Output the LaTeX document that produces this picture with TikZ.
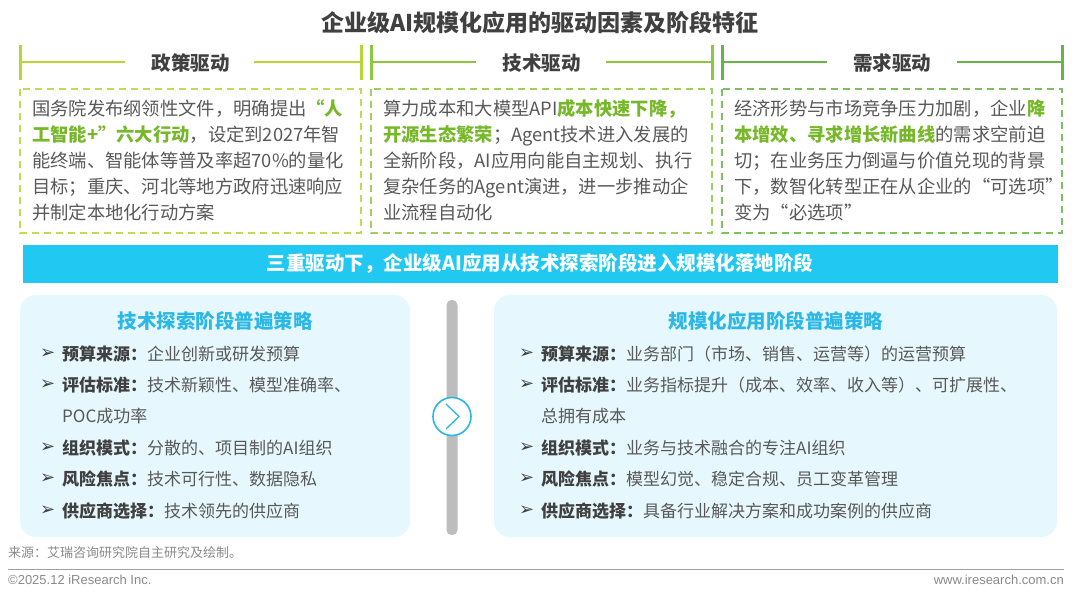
\documentclass[tikz,border=0pt]{standalone}
\usepackage{fontspec}
\setmainfont{Noto Sans CJK SC}
\newfontfamily\dejavu{DejaVu Sans}
\newfontfamily\arialfont{Liberation Sans}
\definecolor{bodygray}{HTML}{595959}
\definecolor{darkgray}{HTML}{404040}
\definecolor{hlgreen}{HTML}{76B82A}
\definecolor{secA}{HTML}{B4D736}
\definecolor{secB}{HTML}{8CC83F}
\definecolor{secC}{HTML}{66B546}
\definecolor{bannercyan}{HTML}{21C9F2}
\definecolor{titlecyan}{HTML}{2BB8E6}
\definecolor{boxfill}{HTML}{E6F7FD}
\definecolor{bargray}{HTML}{BDBDBD}
\definecolor{footgray}{HTML}{8A8A8A}
\newcommand{\hlg}[1]{\textcolor{hlgreen}{\bfseries #1}}
\newcommand{\itemlab}[1]{\textcolor{darkgray}{\bfseries #1}}
\begin{document}
\begin{tikzpicture}[x=1pt,y=-1pt,
  maintitle/.style={font=\fontsize{23}{26}\selectfont\bfseries, text=darkgray, inner sep=0},
  sechead/.style={font=\fontsize{19.5}{22}\selectfont\bfseries, text=darkgray, inner sep=0},
  secline/.style={line width=2.5pt},
  sectick/.style={line width=3pt},
  dashbox/.style={line width=2pt, dash pattern=on 7pt off 5pt},
  body/.style={font=\fontsize{18.3}{26}\selectfont, text=bodygray, align=left, inner sep=0, anchor=north west},
  banner/.style={fill=bannercyan, draw=none},
  bannertext/.style={font=\fontsize{19.5}{22}\selectfont\bfseries, text=white, inner sep=0},
  stagebox/.style={fill=boxfill, draw=none, rounded corners=16pt},
  stagetitle/.style={font=\fontsize{19.5}{22}\selectfont\bfseries, text=titlecyan, inner sep=0},
  item/.style={font=\fontsize{17}{20}\selectfont, text=bodygray, anchor=west, inner sep=0},
  bul/.style={font=\dejavu\fontsize{18}{20}\selectfont, text=darkgray, anchor=west, inner sep=0},
  foot/.style={font=\fontsize{13}{15}\selectfont, text=footgray, inner sep=0},
  footlatin/.style={font=\arialfont\fontsize{13}{15}\selectfont, text=footgray, inner sep=0}
]
\useasboundingbox[fill=white] (0,0) rectangle (1080,596);

% title
\node[maintitle] (title) at (540,23) {企业级AI规模化应用的驱动因素及阶段特征};

% section headers
\node[sechead] (hA) at (190.5,63) {政策驱动};
\draw[secA,secline] (20,62) -- (125,62) (254,62) -- (361,62);
\draw[secA,sectick] (20,45) -- (20,80) (361,45) -- (361,80);
\node[sechead] (hB) at (541.5,63) {技术驱动};
\draw[secB,secline] (371,62) -- (476,62) (606,62) -- (712,62);
\draw[secB,sectick] (371,45) -- (371,80) (712,45) -- (712,80);
\node[sechead] (hC) at (892,63) {需求驱动};
\draw[secC,secline] (722,62) -- (827,62) (957,62) -- (1062,62);
\draw[secC,sectick] (722,45) -- (722,80) (1062,45) -- (1062,80);

% dashed boxes
\draw[secA!85!white,dashbox] (20,89) rectangle (361,233);
\draw[secB!85!white,dashbox] (371,89) rectangle (712,233);
\draw[secC!85!white,dashbox] (722,89) rectangle (1062,233);

\node[body] (tA) at (32,99.5) {国务院发布纲领性文件，明确提出\hlg{“人}\\
\hlg{工智能+”六大行动}，设定到2027年智\\
能终端、智能体等普及率超70\%的量化\\
目标；重庆、河北等地方政府迅速响应\\
并制定本地化行动方案};
\node[body] (tB) at (383,99.5) {算力成本和大模型API\hlg{成本快速下降，}\\
\hlg{开源生态繁荣}；Agent技术进入发展的\\
全新阶段，AI应用向能自主规划、执行\\
复杂任务的Agent演进，进一步推动企\\
业流程自动化};
\node[body] (tC) at (734,99.5) {经济形势与市场竞争压力加剧，企业\hlg{降}\\
\hlg{本增效、寻求增长新曲线}的需求空前迫\\
切；在业务压力倒逼与价值兑现的背景\\
下，数智化转型正在从企业的“可选项”\\
变为“必选项”};

% banner
\fill[banner] (23,245) rectangle (1058,283);
\node[bannertext] (bannerT) at (540,264) {三重驱动下，企业级AI应用从技术探索阶段进入规模化落地阶段};

% stage boxes
\fill[stagebox] (20,295) rectangle (410,537);
\fill[stagebox] (494,295) rectangle (1057,537);
\fill[bargray, rounded corners=5pt] (446.5,300) rectangle (457.5,535);
\node[circle, draw=titlecyan, fill=white, line width=1.6pt, minimum size=38pt, inner sep=0] (circ) at (452,416.5) {};
\draw[titlecyan, line width=1.3pt] ([shift={(-6,-12.5)}]circ.center) -- ([shift={(7,0)}]circ.center) -- ([shift={(-6,12.5)}]circ.center);

\node[stagetitle] (sL) at (215,321) {技术探索阶段普遍策略};
\node[stagetitle] (sR) at (776,321) {规模化应用阶段普遍策略};

% left items
\foreach \yy in {354,385,448,479,511} { \node[bul] at (40,\yy) {➢}; }
\node[item] (l1) at (62,354) {\itemlab{预算来源：}企业创新或研发预算};
\node[item] (l2) at (62,385) {\itemlab{评估标准：}技术新颖性、模型准确率、};
\node[item] (l2b) at (62,416) {POC成功率};
\node[item] (l3) at (62,448) {\itemlab{组织模式：}分散的、项目制的AI组织};
\node[item] (l4) at (62,479) {\itemlab{风险焦点：}技术可行性、数据隐私};
\node[item] (l5) at (62,511) {\itemlab{供应商选择：}技术领先的供应商};

% right items
\foreach \yy in {354,385,448,479,511} { \node[bul] at (519,\yy) {➢}; }
\node[item] (r1) at (541,354) {\itemlab{预算来源：}业务部门（市场、销售、运营等）的运营预算};
\node[item] (r2) at (541,385) {\itemlab{评估标准：}业务指标提升（成本、效率、收入等）、可扩展性、};
\node[item] (r2b) at (541,416) {总拥有成本};
\node[item] (r3) at (541,448) {\itemlab{组织模式：}业务与技术融合的专注AI组织};
\node[item] (r4) at (541,479) {\itemlab{风险焦点：}模型幻觉、稳定合规、员工变革管理};
\node[item] (r5) at (541,511) {\itemlab{供应商选择：}具备行业解决方案和成功案例的供应商};

% footer
\node[foot, anchor=west] (src) at (8,553) {来源：艾瑞咨询研究院自主研究及绘制。};
\draw[footgray!80!white, line width=1pt] (8,569) -- (1064,569);
\node[footlatin, anchor=west] (copy) at (8,580) {©2025.12 iResearch Inc.};
\node[footlatin, anchor=east] (web) at (1064,580) {www.iresearch.com.cn};
\end{tikzpicture}
\end{document}
